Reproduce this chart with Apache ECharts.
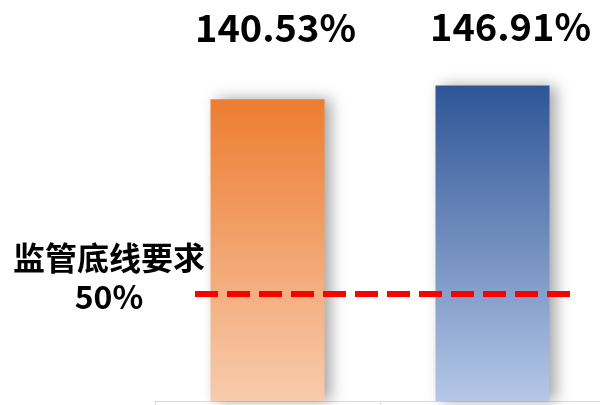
<!DOCTYPE html>
<html><head><meta charset="utf-8">
<script src="https://cdn.jsdelivr.net/npm/echarts@6/dist/echarts.min.js"></script>
<style>html,body{margin:0;padding:0;background:#fff}#c{width:600px;height:405px}</style>
</head><body><div id="c"></div>
<script>
const categories = ['A', 'B'];
const values = [140.53, 146.91];
const thresholdValue = 50;
const thresholdLabel = '监管底线要求';

const FONT = '"Noto Sans CJK SC", "Noto Sans", sans-serif';
const barColors = [
  ['#ED7D31', '#F8CBAD'],
  ['#2F5597', '#B4C7E7']
];
const labelPos = [[8, -72], [18, -59]];

const chart = echarts.init(document.getElementById('c'), null, {renderer: 'canvas'});
chart.setOption({
  animation: false,
  grid: {left: 155, right: -5, top: 14.5, bottom: 4, outerBoundsMode: 'none', containLabel: false},
  xAxis: {
    type: 'category', data: categories, boundaryGap: true,
    axisLine: {lineStyle: {color: '#D9D9D9', width: 1}},
    axisTick: {show: true, length: 4, lineStyle: {color: '#D9D9D9'}},
    axisLabel: {show: false}
  },
  yAxis: {type: 'value', min: 0, max: 180, show: false, splitLine: {show: false}},
  series: [{
    type: 'bar',
    barWidth: 114,
    data: values.map((v, i) => ({
      value: v,
      itemStyle: {
        color: new echarts.graphic.LinearGradient(0, 0, 0, 1, [
          {offset: 0, color: barColors[i][0]},
          {offset: 1, color: barColors[i][1]}
        ]),
        shadowColor: 'rgba(0,0,0,0.35)', shadowBlur: 14, shadowOffsetX: 6, shadowOffsetY: 0
      },
      label: {
        show: true, position: ['50%', labelPos[i][1]], offset: [labelPos[i][0], 0],
        align: 'center', verticalAlign: 'middle',
        formatter: p => p.value.toFixed(2) + '%',
        fontFamily: FONT, fontWeight: 'bold', fontSize: 38, color: '#000'
      }
    })),
    markLine: {
      silent: true, symbol: 'none', animation: false,
      lineStyle: {color: '#FF0000', width: 6, type: [23, 9], opacity: 1},
      label: {show: false},
      data: [[{x: 195, yAxis: thresholdValue}, {x: 570, yAxis: thresholdValue}]]
    }
  }],
  graphic: [{
    type: 'text', x: 109, y: 277,
    style: {
      text: thresholdLabel + '\n' + thresholdValue + '%',
      fontFamily: FONT, fontWeight: 'bold', fontSize: 32, lineHeight: 39,
      fill: '#000', textAlign: 'center', textVerticalAlign: 'middle'
    }
  }]
});
</script></body></html>
